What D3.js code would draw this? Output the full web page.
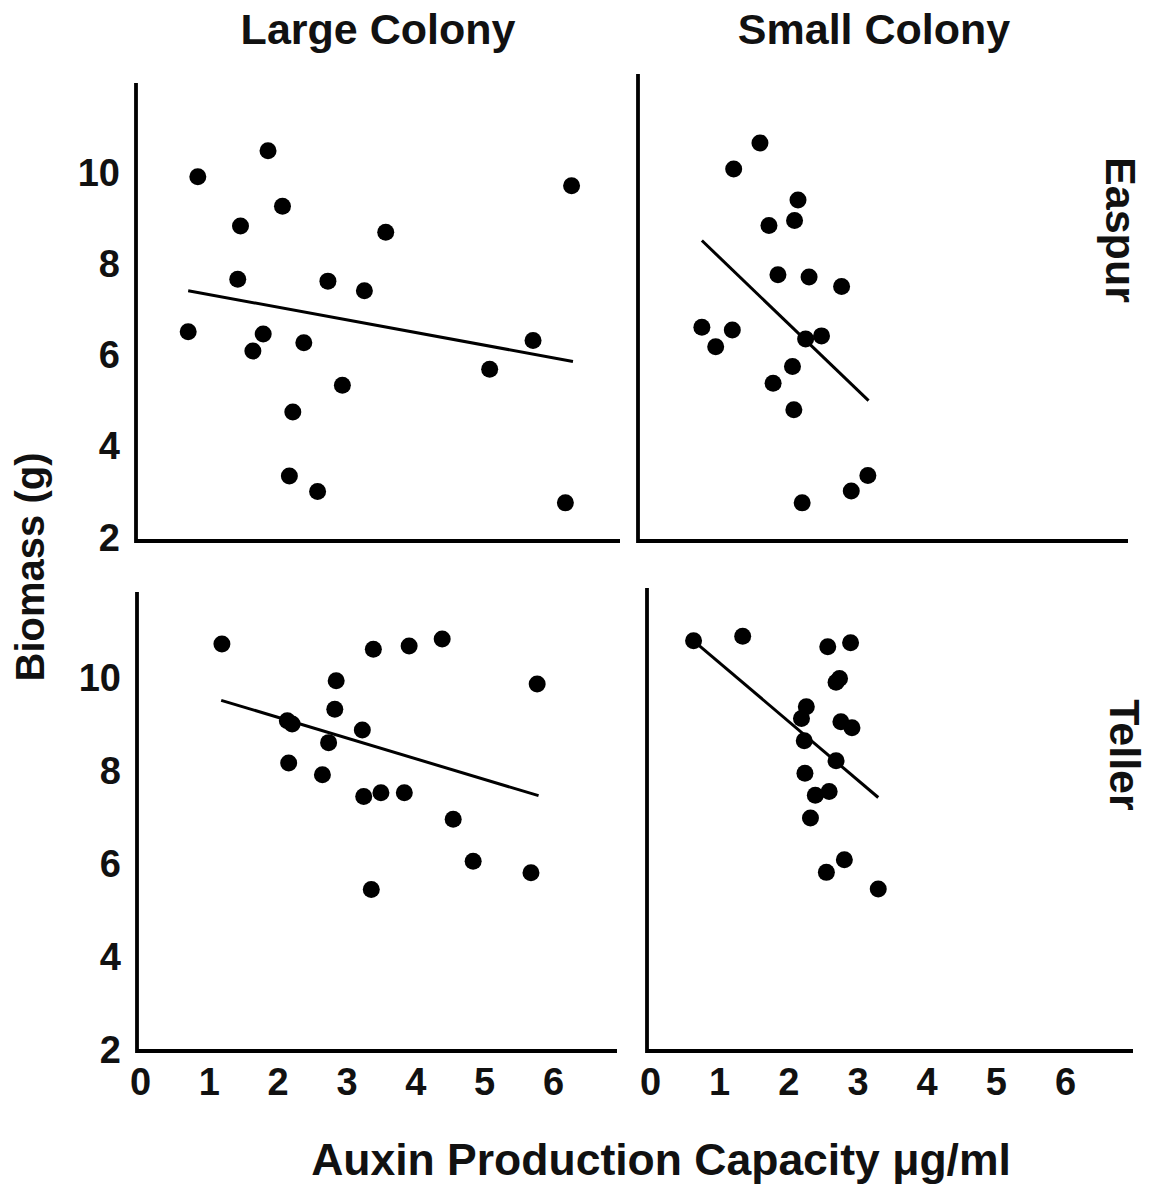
<!DOCTYPE html>
<html>
<head>
<meta charset="utf-8">
<script src="https://cdn.jsdelivr.net/npm/d3@7"></script>
<style>
  body { margin: 0; background: #fff; }
  svg { display: block; }
  text { font-family: 'Liberation Sans', Arial, sans-serif; font-weight: bold; fill: #111; }
</style>
</head>
<body>
<svg id="chart" width="1160" height="1189"></svg>
<script>
// values: [auxin µg/ml, biomass g]
const xTicks = [0, 1, 2, 3, 4, 5, 6];
const yTicks = [2, 4, 6, 8, 10];
const colonies = ['Large Colony', 'Small Colony'];
const sites = ['Easpur', 'Teller'];

const largeEaspur = [[0.70,6.52],[0.84,9.92],[1.46,8.84],[1.42,7.67],[1.64,6.10],[1.79,6.47],[1.86,10.49],[2.07,9.27],[2.22,4.76],[2.17,3.36],[2.38,6.28],[2.58,3.02],[2.73,7.63],[2.94,5.35],[3.26,7.42],[3.57,8.70],[5.08,5.70],[5.71,6.33],[6.27,9.72],[6.18,2.77]];
const largeEaspurFit = [[0.70,7.42],[6.29,5.87]];

const smallEaspur = [[1.72,10.66],[1.34,10.09],[2.27,9.41],[2.22,8.96],[1.85,8.85],[1.98,7.77],[2.43,7.72],[2.90,7.51],[0.88,6.62],[1.32,6.56],[1.08,6.19],[2.38,6.36],[2.61,6.43],[2.19,5.76],[1.91,5.39],[2.21,4.81],[3.28,3.37],[3.04,3.03],[2.33,2.77]];
const smallEaspurFit = [[0.88,8.52],[3.29,5.01]];

const largeTeller = [[1.19,10.73],[3.39,10.62],[3.91,10.69],[4.39,10.84],[2.85,9.94],[5.77,9.87],[2.83,9.33],[2.14,9.08],[2.21,9.01],[3.23,8.88],[2.74,8.61],[2.16,8.17],[2.65,7.92],[3.25,7.45],[3.50,7.53],[3.84,7.53],[4.55,6.96],[4.84,6.06],[5.68,5.81],[3.36,5.45]];
const largeTellerFit = [[1.18,9.52],[5.79,7.47]];

const smallTeller = [[0.63,10.80],[1.34,10.90],[2.57,10.67],[2.90,10.76],[2.69,9.91],[2.74,9.99],[2.26,9.38],[2.19,9.13],[2.76,9.06],[2.92,8.93],[2.23,8.65],[2.69,8.22],[2.24,7.95],[2.39,7.48],[2.59,7.56],[2.32,6.99],[2.81,6.09],[2.55,5.82],[3.30,5.46]];
const smallTellerFit = [[0.63,10.80],[3.30,7.43]];

// panel frames in page pixels
const panels = [
  { pts: largeEaspur, fit: largeEaspurFit, left: 136, top: 83, right: 620, bottom: 541, x0: 140, x6: 553, y2: 538, y10: 173, showY: true, showX: false },
  { pts: smallEaspur, fit: smallEaspurFit, left: 638, top: 74, right: 1128, bottom: 541, x0: 641, x6: 1056, y2: 538, y10: 173, showY: false, showX: false },
  { pts: largeTeller, fit: largeTellerFit, left: 137, top: 592, right: 617, bottom: 1051, x0: 140, x6: 553, y2: 1050, y10: 678, showY: true, showX: true },
  { pts: smallTeller, fit: smallTellerFit, left: 647, top: 588, right: 1133, bottom: 1051, x0: 650, x6: 1065, y2: 1050, y10: 678, showY: false, showX: true }
];

const svg = d3.select('#chart');
svg.append('rect').attr('width', 1160).attr('height', 1189).attr('fill', '#fff');

panels.forEach(p => {
  const x = d3.scaleLinear().domain([0, 6]).range([p.x0, p.x6]);
  const y = d3.scaleLinear().domain([2, 10]).range([p.y2, p.y10]);
  const g = svg.append('g');

  // L-shaped axis
  g.append('path')
    .attr('d', `M${p.left},${p.top}V${p.bottom}H${p.right}`)
    .attr('fill', 'none')
    .attr('stroke', '#000')
    .attr('stroke-width', 3.8);

  if (p.showY) {
    const ay = g.append('g')
      .attr('transform', `translate(${p.left},0)`)
      .call(d3.axisLeft(y).tickValues(yTicks).tickFormat(d3.format('d')).tickSize(0).tickPadding(16));
    ay.select('.domain').remove();
    ay.selectAll('text').attr('font-size', 38).attr('font-family', null).attr('fill', '#111');
  }
  if (p.showX) {
    const ax = g.append('g')
      .attr('transform', `translate(0,${p.bottom})`)
      .call(d3.axisBottom(x).tickValues(xTicks).tickFormat(d3.format('d')).tickSize(0).tickPadding(17));
    ax.select('.domain').remove();
    ax.selectAll('text').attr('font-size', 38).attr('font-family', null).attr('fill', '#111');
  }

  g.append('line')
    .attr('x1', x(p.fit[0][0])).attr('y1', y(p.fit[0][1]))
    .attr('x2', x(p.fit[1][0])).attr('y2', y(p.fit[1][1]))
    .attr('stroke', '#000')
    .attr('stroke-width', 3);

  g.selectAll('circle').data(p.pts).join('circle')
    .attr('cx', d => x(d[0]))
    .attr('cy', d => y(d[1]))
    .attr('r', 8.5)
    .attr('fill', '#000');
});

// column titles
svg.selectAll('.col').data(colonies).join('text')
  .attr('class', 'col')
  .attr('x', (d, i) => [378, 874][i])
  .attr('y', 44)
  .attr('text-anchor', 'middle')
  .attr('font-size', 43)
  .text(d => d);

// row titles (rotated, reading downward)
svg.selectAll('.row').data(sites).join('text')
  .attr('class', 'row')
  .attr('transform', (d, i) => `translate(${[1106, 1110][i]},${[230, 755][i]}) rotate(90)`)
  .attr('text-anchor', 'middle')
  .attr('font-size', 43)
  .text(d => d);

svg.append('text')
  .attr('transform', 'translate(44,567) rotate(-90)')
  .attr('text-anchor', 'middle')
  .attr('font-size', 40)
  .text('Biomass (g)');

svg.append('text')
  .attr('x', 661)
  .attr('y', 1175)
  .attr('text-anchor', 'middle')
  .attr('font-size', 44.5)
  .text('Auxin Production Capacity \u03bcg/ml');
</script>
</body>
</html>
